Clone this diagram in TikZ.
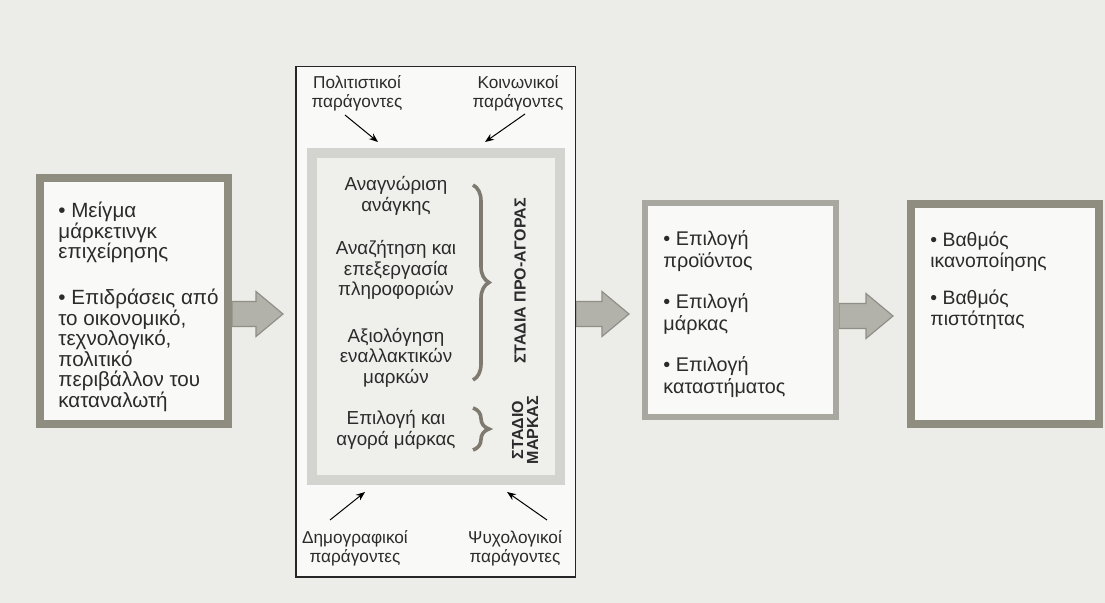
\documentclass[tikz,border=0pt]{standalone}
\usepackage{fontspec}
\setmainfont{Liberation Sans}
\usetikzlibrary{calc,decorations.pathreplacing,arrows.meta}
\pgfdeclarelayer{bottom}
\pgfdeclarelayer{background}
\pgfsetlayers{bottom,background,main}
\definecolor{bgc}{HTML}{ECECE8}
\definecolor{boxfill}{HTML}{F9F9F7}
\definecolor{olive}{HTML}{8E8D7F}
\definecolor{lightolive}{HTML}{A9A8A0}
\definecolor{arrfill}{HTML}{B2B1AA}
\definecolor{arrdraw}{HTML}{8F8E87}
\definecolor{framec}{HTML}{D3D3CF}
\definecolor{framefill}{HTML}{EFEFEC}
\definecolor{textc}{HTML}{2B2B2B}
\definecolor{bracec}{HTML}{7F7A70}
\tikzset{
  panel/.style={draw=olive, fill=boxfill, inner sep=0pt},
  txt/.style={font=\fontsize{10.3}{10.25}\selectfont, text=textc, align=left, inner sep=0pt, anchor=west},
  ctxt/.style={font=\fontsize{9.4}{10.25}\selectfont, text=textc, align=center, inner sep=0pt},
  small/.style={font=\fontsize{8.6}{9.5}\selectfont, text=textc, align=center, inner sep=0pt},
  vert/.style={font=\bfseries\fontsize{8}{7.5}\selectfont, text=textc, align=center, inner sep=0pt, rotate=90},
  thinarrow/.style={draw=black, line width=0.5pt, -{Stealth[length=4.5pt,width=3.5pt]}},
  fatarrow/.style={to path={let \p1=(\tikztostart), \p2=(\tikztotarget) in
     (\x1,\y1+6.25pt) -- (\x2-13.5pt,\y1+6.25pt) -- (\x2-13.5pt,\y1+11.25pt) -- (\x2,\y1)
     -- (\x2-13.5pt,\y1-11.25pt) -- (\x2-13.5pt,\y1-6.25pt) -- (\x1,\y1-6.25pt) -- cycle}},
  blockarrow/.style={fill=arrfill, draw=arrdraw, line width=0.6pt, line join=miter},
  bracestyle/.style={draw=bracec, line width=1.8pt, decorate, decoration={brace, amplitude=8pt}}
}
\begin{document}
\begin{tikzpicture}[x=0.5pt,y=-0.5pt]
\begin{pgfonlayer}{bottom}
\fill[bgc] (0,0) rectangle (1105,603);
\end{pgfonlayer}
\useasboundingbox (0,0) rectangle (1105,603);

% boxes
\node[panel, line width=4pt, minimum width=94pt, minimum height=123pt] (b1) at (134,301) {};
\node[draw=black!85, fill=boxfill, line width=0.75pt, minimum width=139.75pt, minimum height=255.25pt, inner sep=0pt] (mid) at (435.5,322) {};
\node[draw=framec, fill=framefill, line width=5pt, minimum width=124pt, minimum height=163.5pt, inner sep=0pt] (frame) at (436,316.5) {};
\node[panel, draw=lightolive, line width=3pt, minimum width=95.5pt, minimum height=107pt] (b3) at (740.5,310) {};
\node[panel, line width=4pt, minimum width=94pt, minimum height=110pt] (b4) at (1005,314) {};

% block arrows
\coordinate (tip1) at (283,314);
\coordinate (tip2) at (629,314);
\coordinate (tip3) at (893,316);
\begin{pgfonlayer}{background}
\path[blockarrow] (b1.east |- tip1) to[fatarrow] (tip1);
\path[blockarrow] (mid.east |- tip2) to[fatarrow] (tip2);
\path[blockarrow] (b3.east |- tip3) to[fatarrow] (tip3);
\end{pgfonlayer}

% left box text
\node[txt] (t1) at (58,307) {• Μείγμα\\ μάρκετινγκ\\ επιχείρησης\\[12.75pt] • Επιδράσεις από\\ το οικονομικό,\\ τεχνολογικό,\\ πολιτικό\\ περιβάλλον του\\ καταναλωτή};

% box 3 text
\node[txt, font=\fontsize{9.9}{11}\selectfont] (t3) at (663,314.5) {• Επιλογή\\ προϊόντος\\[9.5pt] • Επιλογή\\ μάρκας\\[9.5pt] • Επιλογή\\ καταστήματος};

% box 4 text
\node[txt, font=\fontsize{9.7}{10.5}\selectfont] (t4) at (930,281) {• Βαθμός\\ ικανοποίησης\\[8pt] • Βαθμός\\ πιστότητας};

% factor labels
\node[small] (pol) at (357,93) {Πολιτιστικοί\\ παράγοντες};
\node[small] (koi) at (518,93) {Κοινωνικοί\\ παράγοντες};
\node[small] (dem) at (355,548) {Δημογραφικοί\\ παράγοντες};
\node[small] (psy) at (515,548) {Ψυχολογικοί\\ παράγοντες};

\coordinate (a1s) at (345,115); \coordinate (a1e) at (378,142);
\coordinate (a2s) at (525,114); \coordinate (a2e) at (485,142);
\coordinate (a3s) at (330,520); \coordinate (a3e) at (365,492);
\coordinate (a4s) at (547,520); \coordinate (a4e) at (507,492);
\draw[thinarrow] (a1s) -- (a1e);
\draw[thinarrow] (a2s) -- (a2e);
\draw[thinarrow] (a3s) -- (a3e);
\draw[thinarrow] (a4s) -- (a4e);

% stages
\node[ctxt] (g1) at (396,196) {Αναγνώριση\\ ανάγκης};
\node[ctxt] (g2) at (396,270) {Αναζήτηση και\\ επεξεργασία\\ πληροφοριών};
\node[ctxt] (g3) at (396,357.5) {Αξιολόγηση\\ εναλλακτικών\\ μαρκών};
\node[ctxt] (g4) at (396,430) {Επιλογή και\\ αγορά μάρκας};

% braces
\coordinate (br1t) at (473,185); \coordinate (br1b) at (473,380);
\coordinate (br2t) at (473,408); \coordinate (br2b) at (473,450);
\draw[bracestyle] (br1t) -- (br1b);
\draw[bracestyle] (br2t) -- (br2b);

\node[vert] (s1) at (520,281) {ΣΤΑΔΙΑ ΠΡΟ-ΑΓΟΡΑΣ};
\node[vert] (s2) at (525,430) {ΣΤΑΔΙΟ\\ ΜΑΡΚΑΣ};
\end{tikzpicture}
\end{document}
